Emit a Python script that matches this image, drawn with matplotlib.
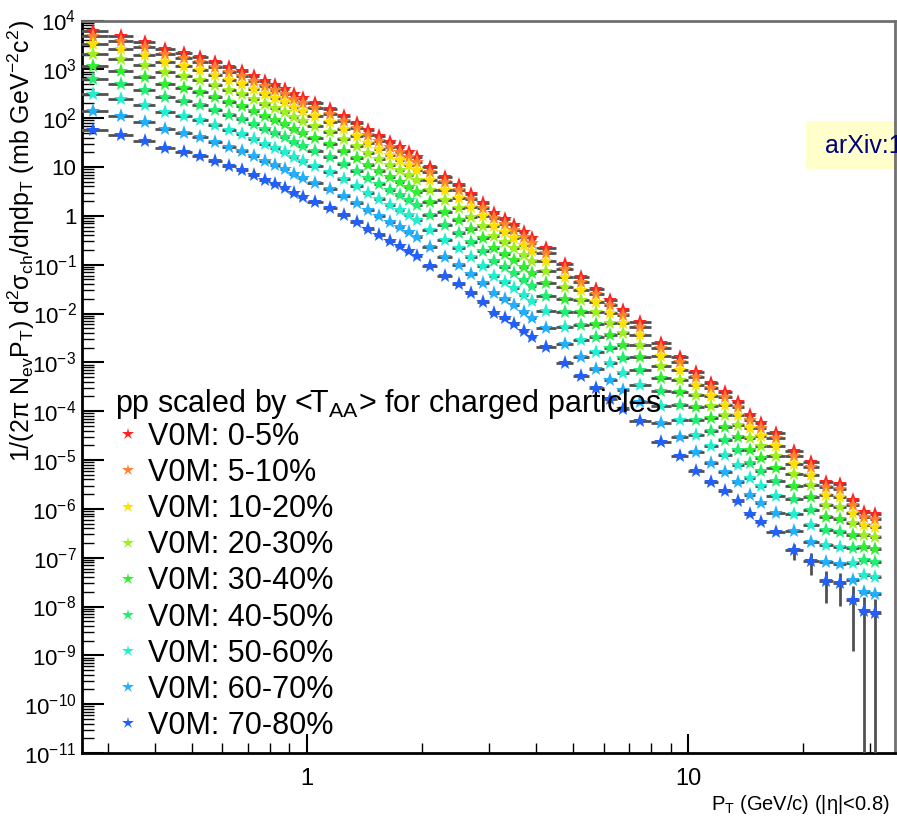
import numpy as np
import matplotlib
matplotlib.use('Agg')
import matplotlib.pyplot as plt
from matplotlib import font_manager
from matplotlib.ticker import LogLocator, FixedLocator, FuncFormatter, NullFormatter
from matplotlib.lines import Line2D
from matplotlib.patches import Rectangle

# pT bin edges (GeV/c)
pt_edges = np.array([0.25, 0.30, 0.35, 0.40, 0.45, 0.50, 0.55, 0.60, 0.65, 0.70, 0.75, 0.80,
                     0.85, 0.90, 0.95, 1.0,
                     1.1, 1.2, 1.3, 1.4, 1.5, 1.6, 1.7, 1.8, 1.9, 2.0,
                     2.2, 2.4, 2.6, 2.8, 3.0, 3.2, 3.4, 3.6, 3.8, 4.0,
                     4.5, 5.0, 5.5, 6.0, 6.5, 7.0,
                     8, 9, 10,
                     11, 12, 13, 14, 15, 16,
                     18, 20, 22, 24, 26, 28, 30, 32])

# 0-5% spectrum (mb GeV^-2 c^2)
spec_0_5 = np.array([6100, 4820, 3630, 2610, 2160, 1790, 1410, 1120, 924, 730, 577, 478,
                     396, 312, 259,
                     204, 154, 111, 79.6, 57.2, 43.1, 32.5, 25.7, 20.3, 16.0,
                     10.0, 6.24, 4.28, 2.80, 1.83, 1.14, 0.861, 0.649, 0.466, 0.351,
                     0.219, 0.103, 0.0559, 0.0317, 0.0189, 0.0118,
                     0.00669, 0.00249, 0.00129,
                     6.33e-4, 3.77e-4, 2.47e-4, 1.54e-4, 8.33e-5, 5.72e-5,
                     3.57e-5, 1.53e-5, 9.09e-6, 3.54e-6, 3.22e-6, 1.51e-6, 8.60e-7, 7.82e-7])

classes = ['0-5%', '5-10%', '10-20%', '20-30%', '30-40%', '40-50%', '50-60%', '60-70%', '70-80%']
taa = [26.1, 20.4, 14.4, 8.8, 5.1, 2.7, 1.35, 0.59, 0.24]   # <T_AA> (mb^-1)
colors = ['#ff2020', '#ff8030', '#ffe000', '#a0f020', '#30f030', '#20f070',
          '#20f0d0', '#20b0ff', '#2060ff']

# relative stat. errors of the 70-80% class (only visible at high pT)
err_rel_7080 = np.zeros(len(spec_0_5))
err_rel_7080[-7:] = [0.375, 0.48, 0.64, 0.66, 0.91, 1.0, 1.0]

lo = pt_edges[:-1]
hi = pt_edges[1:]
pt = 0.5 * (lo + hi)

names = {f.name for f in font_manager.fontManager.ttflist}
narrow = 'Liberation Sans Narrow' if 'Liberation Sans Narrow' in names else 'Liberation Sans'
plt.rcParams['font.family'] = [narrow, 'DejaVu Sans']
plt.rcParams['mathtext.fontset'] = 'custom'
plt.rcParams['mathtext.rm'] = narrow
plt.rcParams['mathtext.it'] = narrow + ':italic'
plt.rcParams['mathtext.bf'] = narrow + ':bold'
plt.rcParams['mathtext.sf'] = narrow

W, H = 897, 818
fig = plt.figure(figsize=(W / 100, H / 100), dpi=100)
ax = fig.add_axes([82 / W, 65 / H, 813 / W, 732.5 / H])
ax.set_xscale('log')
ax.set_yscale('log')

for i in range(len(classes)):
    y = spec_0_5 * taa[i] / taa[0]
    yerr = err_rel_7080 * y if i == len(classes) - 1 else None
    ax.errorbar(pt, y, xerr=[pt - lo, hi - pt], yerr=yerr, fmt='*', ms=11,
                color=colors[i], mec=colors[i], mew=0, ecolor='#505050',
                elinewidth=2, capsize=0, zorder=3 + i)

ax.set_xlim(0.257, 34.9)
ax.set_ylim(1e-11, 1e4)

ax.yaxis.set_major_locator(LogLocator(base=10, numticks=30))
ax.yaxis.set_minor_locator(LogLocator(base=10, subs=np.arange(2, 10), numticks=30))


def ylab(v, p):
    e = int(round(np.log10(v)))
    if e == 0:
        return '1'
    if e == 1:
        return '10'
    return r'$10^{%d}$' % e


ax.yaxis.set_major_formatter(FuncFormatter(ylab))
ax.yaxis.set_minor_formatter(NullFormatter())
ax.xaxis.set_major_locator(FixedLocator([1, 10]))
ax.xaxis.set_minor_locator(LogLocator(base=10, subs=np.arange(2, 10), numticks=30))
ax.xaxis.set_major_formatter(FuncFormatter(lambda v, p: f'{v:g}'))
ax.xaxis.set_minor_formatter(NullFormatter())

ax.tick_params(axis='y', which='major', direction='in', length=16, width=1.5, labelsize=16, pad=4)
ax.tick_params(axis='y', which='minor', direction='in', length=8.5, width=1)
ax.tick_params(axis='x', which='major', direction='in', length=14, width=1.5, labelsize=17, pad=11)
ax.tick_params(axis='x', which='minor', direction='in', length=7.5, width=1)

for s in ['left', 'bottom']:
    ax.spines[s].set_linewidth(2)
    ax.spines[s].set_color('black')
for s in ['top', 'right']:
    ax.spines[s].set_linewidth(2)
    ax.spines[s].set_color('#707070')

fig.text(21 / W, 1 - 20 / H,
         r'1/(2π N$_{\rm ev}$P$_{\rm T}$) d$^{2}$σ$_{\rm ch}$/dηdp$_{\rm T}$ (mb GeV$^{-2}$c$^{2}$)',
         rotation=90, ha='center', va='top', fontsize=18)
fig.text(890 / W, 1 - 810 / H, r'P$_{\rm T}$ (GeV/c) (|η|<0.8)',
         ha='right', va='baseline', fontsize=14.5)

# legend
handles = [Line2D([], [], ls='none', marker='*', ms=9, color=c, mew=0) for c in colors]
labels = ['V0M: ' + c for c in classes]
ax.legend(handles, labels, loc='upper left', bbox_to_anchor=(115.8 / W, 1 - 422 / H),
          bbox_transform=fig.transFigure, frameon=False, fontsize=22, handlelength=0.8,
          handletextpad=0.25, labelspacing=0.2, borderpad=0, borderaxespad=0)
fig.text(115 / W, 1 - 412 / H, r'pp scaled by <T$_{\rm AA}$> for charged particles',
         ha='left', va='baseline', fontsize=22)

# arXiv tag
ax.add_patch(Rectangle((806 / W, 1 - 169 / H), 0.2, 48 / H, transform=fig.transFigure,
                       facecolor='#ffffcc', edgecolor='none', clip_on=False, zorder=1))
fig.text(825 / W, 1 - 153 / H, 'arXiv:1', color='#000080', fontsize=18,
         family=['Liberation Sans', 'DejaVu Sans'], ha='left', va='baseline')

fig.savefig('out.png', dpi=100)
